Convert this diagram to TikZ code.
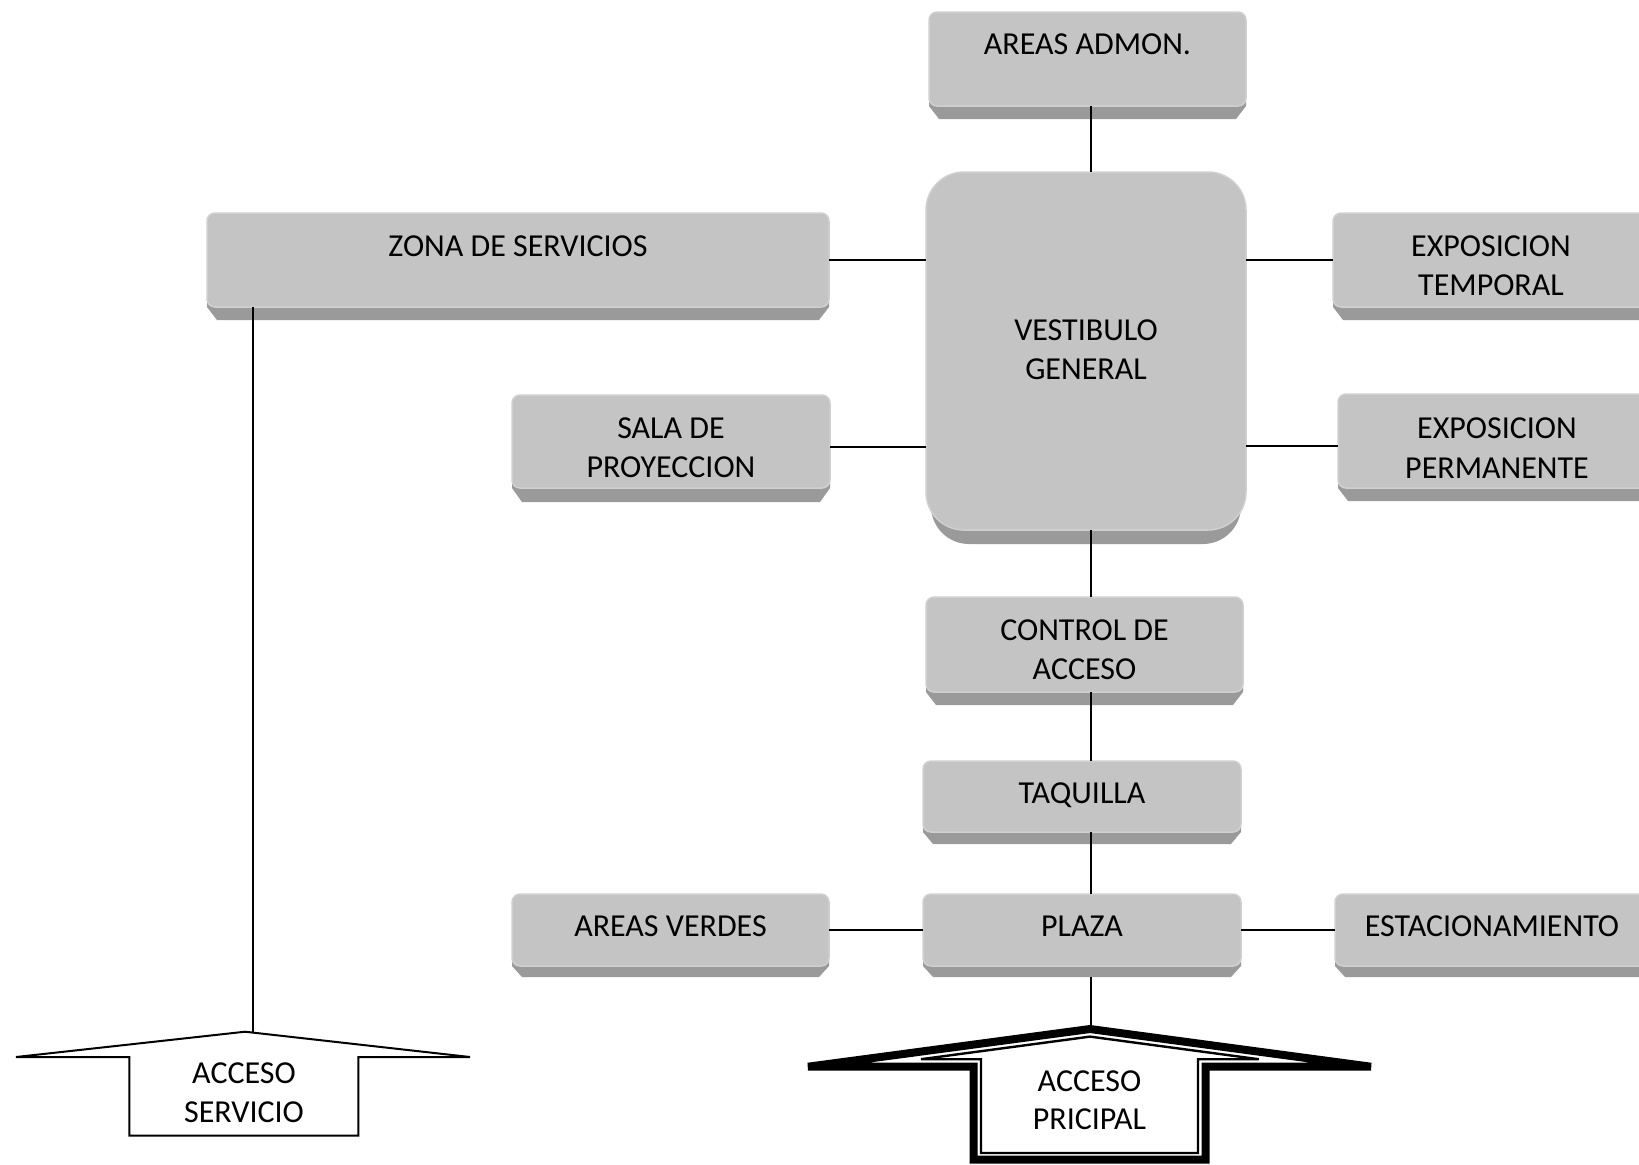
\documentclass[tikz,border=0pt]{standalone}
\usepackage{fontspec}
\setmainfont{Carlito}
\usetikzlibrary{fit}
\definecolor{facegray}{HTML}{C4C4C4}
\definecolor{bevelgray}{HTML}{9A9A9A}
\definecolor{facelight}{HTML}{D0D0D0}
\tikzset{
  face/.style={inner sep=0pt, outer sep=0pt, rounded corners=4pt, fill=facegray, draw=facelight, line width=0.75pt},
  bevel/.style={fill=bevelgray},
  lbl/.style={anchor=base, inner sep=0pt, font=\fontsize{16}{19.5}\selectfont},
  conn/.style={draw=black, line width=1pt},
  thinarrow/.style={draw=black, line width=1pt, line join=miter, fill=white},
  thickout/.style={draw=black, line width=4pt, line join=miter, fill=white},
  thickin/.style={draw=black, line width=1.2pt, line join=miter},
}
\newcommand\gbox[6]{%
  \fill[bevel] (#2,#5-10) -- (#2,#5) -- (#2+10,#6) -- (#4-10,#6) -- (#4,#5) -- (#4,#5-10) -- cycle;
  \node[face, fit={(#2,#3) (#4,#5)}] (#1) {};
}
\begin{document}
\begin{tikzpicture}[x=0.5pt,y=-0.5pt]
\clip (0,0) rectangle (1639,1164);
\fill[white] (0,0) rectangle (1639,1164);

% boxes
\gbox{admon}{929}{12}{1246}{106}{119}
\fill[bevel, rounded corners=19pt] (931,186) rectangle (1241,544);
\node[face, rounded corners=19pt, fit={(926,172) (1246,530)}] (vest) {};
\gbox{zona}{207}{213}{829}{307}{320}
\gbox{sala}{512}{395}{830}{488}{502}
\gbox{expt}{1333}{213}{1649}{307}{320}
\gbox{expp}{1338}{394}{1656}{488}{501}
\gbox{control}{926}{597}{1243}{692}{705}
\gbox{taq}{923}{761}{1241}{832}{844}
\gbox{plaza}{923}{894}{1241}{966}{977}
\gbox{verdes}{512}{894}{829}{966}{977}
\gbox{estac}{1335}{894}{1649}{966}{977}

% labels
\node[lbl] (admon-l) at (1087.5,54) {AREAS ADMON.};
\node[lbl] (vest-l1) at (1086,340.5) {VESTIBULO};
\node[lbl] (vest-l2) at (1086,379.5) {GENERAL};
\node[lbl] (zona-l) at (518,256) {ZONA DE SERVICIOS};
\node[lbl] (sala-l1) at (671,438.5) {SALA DE};
\node[lbl] (sala-l2) at (671,477.5) {PROYECCION};
\node[lbl] (expt-l1) at (1491,256) {EXPOSICION};
\node[lbl] (expt-l2) at (1491,295) {TEMPORAL};
\node[lbl] (expp-l1) at (1497,438.5) {EXPOSICION};
\node[lbl] (expp-l2) at (1497,478) {PERMANENTE};
\node[lbl] (control-l1) at (1084.5,640) {CONTROL DE};
\node[lbl] (control-l2) at (1084.5,679) {ACCESO};
\node[lbl] (taq-l) at (1082,803) {TAQUILLA};
\node[lbl] (plaza-l) at (1082,936) {PLAZA};
\node[lbl] (verdes-l) at (670.5,936) {AREAS VERDES};
\node[lbl] (estac-l) at (1492,936) {ESTACIONAMIENTO};

% acceso servicio
\draw[thinarrow] (16,1057) -- (245,1031.7) -- (470,1057) -- (358.3,1057) -- (358.3,1135.7) -- (129.3,1135.7) -- (129.3,1057) -- cycle;
\coordinate (servtop) at (253.3,1032.6);
\node[lbl] (serv-l1) at (244,1083) {ACCESO};
\node[lbl] (serv-l2) at (244,1122) {SERVICIO};

% acceso principal
\draw[thickout] (808,1066.7) -- (1090,1029) -- (1371,1066.7) -- (1205.5,1066.7) -- (1205.5,1159.7) -- (973.5,1159.7) -- (973.5,1066.7) -- cycle;
\draw[thickin] (921,1059.2) -- (1090,1036.6) -- (1258.7,1059.2) -- (1198,1059.2) -- (1198,1153) -- (981,1153) -- (981,1059.2) -- cycle;
\coordinate (printop) at (1090.7,1025);
\node[lbl] (prin-l1) at (1089.5,1091) {ACCESO};
\node[lbl] (prin-l2) at (1089.5,1129) {PRICIPAL};

% connectors
\coordinate (spine) at (1090.7,0);
\draw[conn] (spine |- admon.south) -- (spine |- vest.north);
\draw[conn] (zona.east) -- (zona.east -| vest.west);
\draw[conn] (expt.west) -- (expt.west -| vest.east);
\draw[conn] ([yshift=-2.5pt]sala.east) -- ([yshift=-2.5pt]sala.east -| vest.west);
\draw[conn] ([yshift=-2.5pt]expp.west) -- ([yshift=-2.5pt]expp.west -| vest.east);
\draw[conn] (spine |- vest.south) -- (spine |- control.north);
\draw[conn] (spine |- control.south) -- (spine |- taq.north);
\draw[conn] (spine |- taq.south) -- (spine |- plaza.north);
\draw[conn] (verdes.east) -- (verdes.east -| plaza.west);
\draw[conn] (plaza.east) -- (plaza.east -| estac.west);
\draw[conn] ([yshift=-5.5pt]spine |- plaza.south) -- (printop);
\draw[conn] (servtop |- zona.south) -- (servtop);
\end{tikzpicture}
\end{document}
